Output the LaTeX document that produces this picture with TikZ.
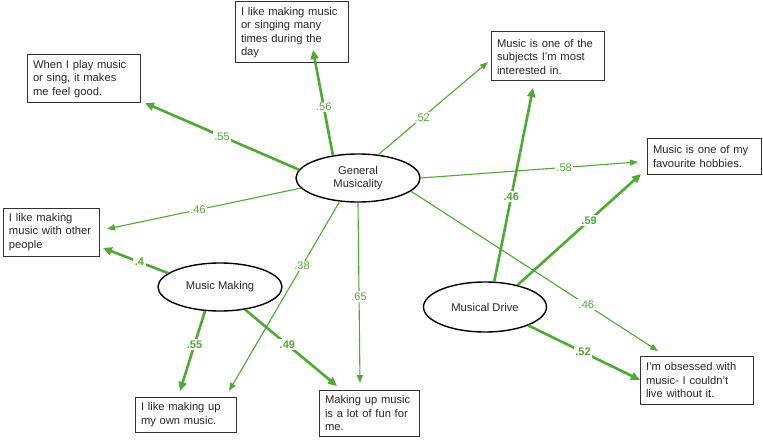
\documentclass[tikz,border=0pt]{standalone}
\usepackage{fontspec}
\setmainfont{Liberation Sans}
\usetikzlibrary{arrows.meta,shapes.geometric}
\definecolor{pathgreen}{RGB}{77,170,50}
\definecolor{boxline}{RGB}{50,50,50}
\tikzset{
  itembox/.style={draw=boxline, line width=1pt, align=left, inner xsep=6pt, inner ysep=2pt,
    font=\fontsize{11.2}{13.5}\selectfont, text=black!85},
  latent/.style={draw=black, ellipse, line width=1.4pt, inner sep=0pt, align=center,
    font=\fontsize{11.2}{13.5}\selectfont, text=black!85},
  thinarrow/.style={draw=pathgreen, line width=1.1pt, -{Triangle[length=8pt,width=6pt]}},
  thickarrow/.style={draw=pathgreen, line width=2.6pt, -{Triangle[length=9pt,width=8pt]}},
  thinlab/.style={fill=white, text=pathgreen, inner sep=1.5pt, font=\fontsize{11}{12}\selectfont},
  thicklab/.style={fill=white, text=pathgreen, inner sep=1.5pt, font=\fontsize{11}{12}\selectfont\bfseries}
}
\begin{document}
\begin{tikzpicture}[x=1pt,y=-1pt]
\useasboundingbox (0,0) rectangle (763,441);
% boxes
\node[itembox, minimum width=113pt, minimum height=61pt, text width=101pt] (b1) at (291.5,32.5)
  {I like making music\\or singing many\\times during the\\day};
\node[itembox, minimum width=113pt, minimum height=48pt, text width=101pt] (b2) at (83.5,79)
  {When I play music\\or sing, it makes\\me feel good.};
\node[itembox, minimum width=96pt, minimum height=48pt, text width=84pt] (b3) at (51,232)
  {I like making\\music with other\\people};
\node[itembox, minimum width=101pt, minimum height=35pt, text width=89pt] (b4) at (185.5,414.5)
  {I like making up\\my own music.};
\node[itembox, minimum width=100pt, minimum height=46pt, text width=88pt] (b5) at (369,413)
  {Making up music\\is a lot of fun for\\me.};
\node[itembox, minimum width=113pt, minimum height=49pt, text width=101pt] (b6) at (547.5,56.5)
  {Music is one of the\\subjects I'm most\\interested in.};
\node[itembox, minimum width=114pt, minimum height=35pt, text width=102pt] (b7) at (704,156.5)
  {Music is one of my\\favourite hobbies.};
\node[itembox, minimum width=113pt, minimum height=48pt, text width=101pt] (b8) at (696.5,380)
  {I'm obsessed with\\music- I couldn't\\live without it.};
% latent variables
\node[latent, minimum width=124pt, minimum height=48pt] (gm) at (358,178) {General\\Musicality};
\node[latent, minimum width=124pt, minimum height=48pt] (mm) at (220,287) {Music Making};
\node[latent, minimum width=123pt, minimum height=50pt] (md) at (485,307) {Musical Drive};
% arrow tips
\coordinate (t1) at (313,50);
\coordinate (t2) at (145,103);
\coordinate (t3) at (107,229);
\coordinate (t4) at (229,391);
\coordinate (t5) at (360,383);
\coordinate (t6) at (488,62);
\coordinate (t7) at (638,162);
\coordinate (t8) at (658,351);
\coordinate (t9) at (103,248);
\coordinate (t10) at (180,391);
\coordinate (t11) at (337,386);
\coordinate (t12) at (533,88);
\coordinate (t13) at (641,174);
\coordinate (t14) at (640,380);
% General Musicality paths
\draw[thickarrow] (gm.138.5) -- node[thinlab, pos=0.46] {.56} (t1);
\draw[thickarrow] (gm.172.4) -- node[thinlab, pos=0.50] {.55} (t2);
\draw[thinarrow] (gm.190.7) -- node[thinlab, pos=0.53] {.46} (t3);
\draw[thinarrow] (gm.232) -- node[thinlab, pos=0.34] {.38} (t4);
\draw[thinarrow] (gm.270) -- node[thinlab, pos=0.52] {.65} (t5);
\draw[thinarrow] (gm.49) -- node[thinlab, pos=0.40] {.52} (t6);
\draw[thinarrow] (gm.0) -- node[thinlab, pos=0.66] {.58} (t7);
\draw[thinarrow] (gm.346.7) -- node[thinlab, pos=0.71] {.46} (t8);
% Music Making paths
\draw[thickarrow] (mm.165) -- node[thicklab, pos=0.44] {.4} (t9);
\draw[thickarrow] (mm.238) -- node[thicklab, pos=0.42] {.55} (t10);
\draw[thickarrow] (mm.318) -- node[thicklab, pos=0.46] {.49} (t11);
% Musical Drive paths
\draw[thickarrow] (md.70) -- node[thicklab, pos=0.44] {.46} (t12);
\draw[thickarrow] (md.34.5) -- node[thicklab, pos=0.58] {.59} (t13);
\draw[thickarrow] (md.337) -- node[thicklab, pos=0.49] {.52} (t14);
\end{tikzpicture}
\end{document}
